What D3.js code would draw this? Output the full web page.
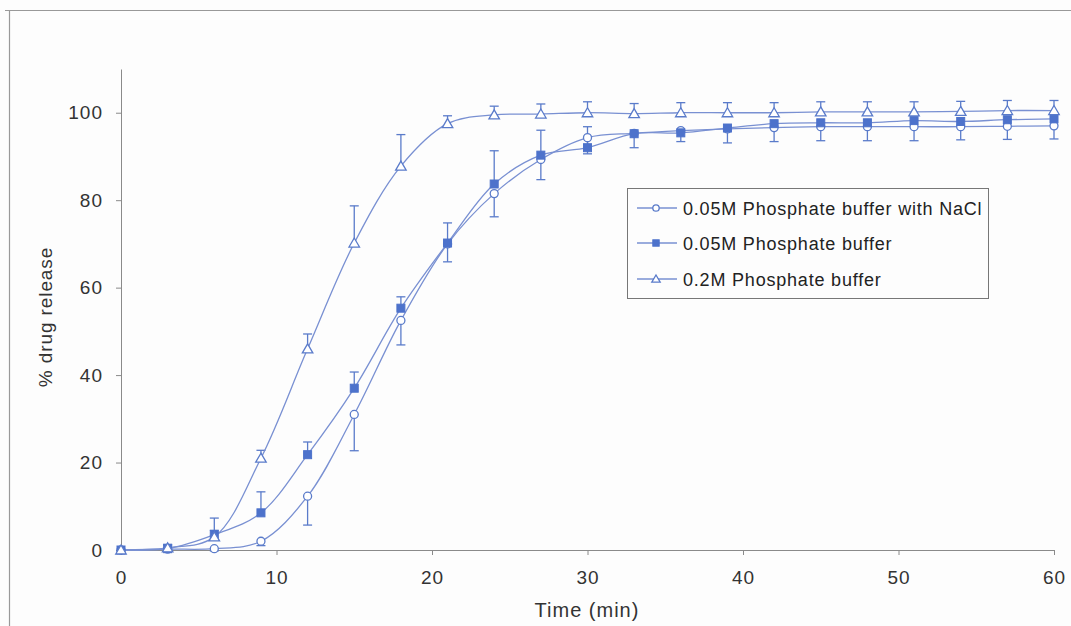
<!DOCTYPE html>
<html><head><meta charset="utf-8">
<script src="https://cdn.jsdelivr.net/npm/d3@7"></script>
<style>
html,body{margin:0;padding:0;background:#fdfdfd;}
svg{display:block;font-family:"Liberation Sans",Arial,sans-serif;}
</style></head>
<body>
<svg id="chart" width="1071" height="626"></svg>
<script>
const times = [0,3,6,9,12,15,18,21,24,27,30,33,36,39,42,45,48,51,54,57,60];
const nacl   = [0,0.2,0.3,2,12.3,31,52.5,70,81.5,89.3,94.3,95.3,95.9,96.3,96.6,96.8,96.8,96.8,96.8,96.9,97.0];
const naclErrMinus = [0,0.5,0.5,1,6.6,8.3,5.6,4.1,5.3,4.6,3.7,3.3,2.5,3.2,3.2,3.2,3.2,3.2,3.0,3.0,3.0];
const p005   = [0,0.3,3.5,8.5,21.8,37,55.3,70.2,83.7,90.3,92,95.2,95.4,96.5,97.5,97.7,97.7,98.2,98.0,98.4,98.6];
const p005ErrPlus = [0,0.8,3.8,4.8,2.9,3.7,2.6,4.6,7.6,5.7,4.8,0,0,0,0,0,0,0,0,0,0];
const p02    = [0,0.5,3,21,46,70.2,87.8,97.5,99.5,99.7,100,99.8,100,100,100,100.2,100.2,100.2,100.3,100.5,100.5];
const p02ErrPlus = [0,0.8,1.5,1.8,3.4,8.5,7.2,1.8,2,2.3,2.5,2.3,2.3,2.3,2.3,2.3,2.3,2.3,2.3,2.3,2.3];
const seriesNames = ["0.05M Phosphate buffer with NaCl","0.05M Phosphate buffer","0.2M Phosphate buffer"];
const xTicks = [0,10,20,30,40,50,60];
const yTicks = [0,20,40,60,80,100];

const svg = d3.select("#chart");
const lineCol = "#7990d2", markCol = "#5a7bca", fillCol = "#4d72cb", axisCol = "#8a8a8a";

// outer frame
svg.append("line").attr("x1",5).attr("x2",1071).attr("y1",10.5).attr("y2",10.5).attr("stroke","#999").attr("stroke-width",1.2);
svg.append("line").attr("x1",9.5).attr("x2",9.5).attr("y1",10).attr("y2",626).attr("stroke","#999").attr("stroke-width",1.2);

const x = d3.scaleLinear().domain([0,60]).range([121,1054]);
const y = d3.scaleLinear().domain([0,110]).range([550,69]);

const xAxis = svg.append("g").attr("transform","translate(0,550)")
  .call(d3.axisBottom(x).tickValues(xTicks).tickSize(5).tickPadding(16).tickSizeOuter(0));
const yAxis = svg.append("g").attr("transform","translate(121,0)")
  .call(d3.axisLeft(y).tickValues(yTicks).tickSize(5).tickPadding(13).tickSizeOuter(0));
[xAxis,yAxis].forEach(a=>{
  a.select(".domain").attr("stroke",axisCol);
  a.selectAll(".tick line").attr("stroke",axisCol);
  a.selectAll(".tick text").attr("fill","#333").attr("font-size","19px").attr("letter-spacing","1px")
   .attr("font-family","'Liberation Sans',Arial,sans-serif");
});

svg.append("text").attr("x",587).attr("y",617).attr("text-anchor","middle").attr("font-size","20px")
  .attr("letter-spacing","1px").attr("fill","#333").text("Time (min)");
svg.append("text").attr("transform","translate(52,317) rotate(-90)").attr("text-anchor","middle")
  .attr("font-size","19px").attr("letter-spacing","0.9px").attr("fill","#333").text("% drug release");

const line = d3.line().x(d=>x(d[0])).y(d=>y(d[1])).curve(d3.curveCatmullRom.alpha(0.5));
const series = [
  {vals:nacl, errP:null, errM:naclErrMinus, shape:"circle"},
  {vals:p005, errP:p005ErrPlus, errM:null, shape:"square"},
  {vals:p02, errP:p02ErrPlus, errM:null, shape:"triangle"}
];

// error bars
series.forEach(s=>{
  const g = svg.append("g");
  times.forEach((t,i)=>{
    const v = s.vals[i];
    const e = s.errP ? s.errP[i] : -s.errM[i];
    if (Math.abs(e) < 0.01) return;
    const px = x(t);
    g.append("line").attr("x1",px).attr("x2",px).attr("y1",y(v)).attr("y2",y(v+e)).attr("stroke",markCol).attr("stroke-width",1.3);
    g.append("line").attr("x1",px-4.5).attr("x2",px+4.5).attr("y1",y(v+e)).attr("y2",y(v+e)).attr("stroke",markCol).attr("stroke-width",1.3);
  });
});

// lines
series.forEach(s=>{
  svg.append("path").datum(times.map((t,i)=>[t,s.vals[i]])).attr("d",line)
    .attr("fill","none").attr("stroke",lineCol).attr("stroke-width",1.3);
});

function drawMarker(g, shape, px, py, scale){
  const k = scale||1;
  if (shape==="circle") {
    g.append("circle").attr("cx",px).attr("cy",py).attr("r",4*k).attr("fill","#fff").attr("stroke",markCol).attr("stroke-width",1.3);
  } else if (shape==="square") {
    const s=8*k;
    g.append("rect").attr("x",px-s/2).attr("y",py-s/2).attr("width",s).attr("height",s).attr("fill",fillCol).attr("stroke",fillCol);
  } else {
    const h=5*k;
    g.append("path").attr("d",`M${px},${py-h}L${px+h*1.05},${py+h*0.8}L${px-h*1.05},${py+h*0.8}Z`)
      .attr("fill","#fff").attr("stroke",markCol).attr("stroke-width",1.3);
  }
}
// markers
series.forEach(s=>{
  const g = svg.append("g");
  times.forEach((t,i)=>drawMarker(g,s.shape,x(t),y(s.vals[i])));
});

// legend
const lg = svg.append("g");
lg.append("rect").attr("x",627.5).attr("y",188.5).attr("width",361).attr("height",110)
  .attr("fill","#fdfdfd").attr("stroke","#777").attr("stroke-width",1);
const ly = [208,243,279];
series.forEach((s,i)=>{
  lg.append("line").attr("x1",637).attr("x2",677).attr("y1",ly[i]).attr("y2",ly[i]).attr("stroke",lineCol).attr("stroke-width",1.3);
  drawMarker(lg,s.shape,656,ly[i],0.8);
  lg.append("text").attr("x",683).attr("y",ly[i]+6.5).attr("font-size","18px").attr("letter-spacing","0.8px")
    .attr("fill","#222").text(seriesNames[i]);
});
</script>
</body></html>
